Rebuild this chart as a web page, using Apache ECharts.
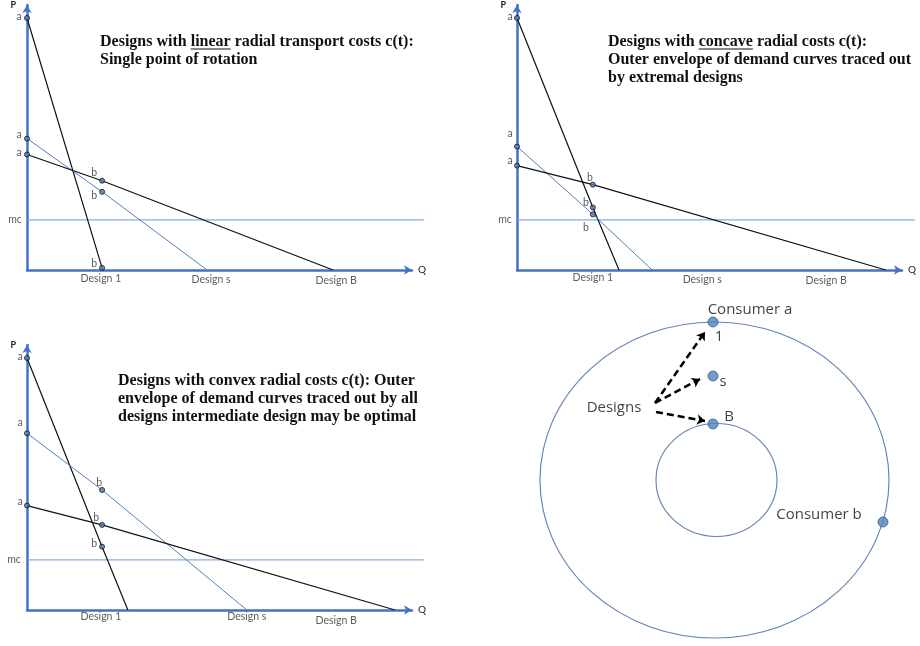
<!DOCTYPE html>
<html><head><meta charset="utf-8">
<script src="https://cdn.jsdelivr.net/npm/echarts@6/dist/echarts.min.js"></script>
<style>html,body{margin:0;padding:0;background:#fff}#c{width:920px;height:646px}</style>
</head><body><div id="c"></div>
<script>
// ---------------- data ----------------
const designNames = ['Design 1', 'Design s', 'Design B'];
const mcLevel = 18.9;

// Panel 1: linear radial transport costs
const p1InterceptP = [95.1, 49.6, 43.6];
const p1PointQ = [19.5, 19.5, 19.5];
const p1PointP = [0.8, 29.5, 33.7];
const p1InterceptQ = [19.6, 46.8, 79.5];
const p1LabelQ = [19.2, 47.8, 80.3];
const p1McEndQ = 103.1;

// Panel 2: concave radial costs
const p2InterceptP = [95.1, 46.6, 39.4];
const p2PointQ = [19.7, 19.7, 19.7];
const p2PointP = [23.6, 21.0, 32.2];
const p2InterceptQ = [26.5, 35.1, 95.8];
const p2LabelQ = [19.7, 48.1, 80.3];
const p2McEndQ = 103.4;

// Panel 3: convex radial costs
const p3InterceptP = [95.1, 66.7, 39.4];
const p3PointQ = [19.5, 19.5, 19.5];
const p3PointP = [23.9, 45.3, 32.1];
const p3InterceptQ = [26.2, 57.1, 95.6];
const p3LabelQ = [19.2, 57.1, 80.3];
const p3McEndQ = 103.1;

// Panel 4: circle of consumers
const ringNames = ['outer', 'inner'];
const ringX = [0, 2];
const ringY = [0, 0];
const dotNames = ['Consumer a', 's', 'B', 'Consumer b'];
const dotX = [-1.5, -1.5, -1.5, 168.5];
const dotY = [158, 104, 56, -42];
const arrowFrom = [[-59.5, 77], [-59.5, 77], [-58.5, 68]];
const arrowTo = [[-9.5, 148], [-14.5, 101], [-9.5, 59]];
const noteText = ['Consumer a', '1', 's', 'B', 'Designs', 'Consumer b'];
const noteX = [35.5, 4.5, 8.5, 14.5, -100.5, 104.5];
const noteY = [170, 143, 98, 63, 72, -35];

// ---------------- styles / layout ----------------
const SMALL_FONT = 'Lato';
const SMALL_SIZE = 10.5;
const BIG_FONT = 'Open Sans';
const SERIF = 'Liberation Serif';
const AXIS_BLUE = '#4472C4';
const LINE_BLUE = '#4F81BD';
const MC_BLUE = '#6A98D6';

const panelLayout = [
  {left: 27, top: 5, width: 385, height: 265},
  {left: 517, top: 5, width: 385, height: 265},
  {left: 27, top: 345, width: 385, height: 265}
];
const aOffsets = [
  [[-8, -1], [-8, -4], [-8, -2]],
  [[-7, -1], [-7, -13], [-7, -5]],
  [[-7, -1], [-7, -11], [-7, -4]]
];
const bOffsets = [
  [[-8, -4], [-8, 4], [-8, -8]],
  [[-7, -5], [-7, 13], [-3, -7]],
  [[-8, -3], [-3, -7], [-6, -7]]
];
const designLabelDy = [[9, 10, 11], [8, 10, 11], [7, 7, 11]];
const mcDx = [-12, -12, -13];

const panels = [
  {iP: p1InterceptP, pQ: p1PointQ, pP: p1PointP, iQ: p1InterceptQ, lQ: p1LabelQ, mcEnd: p1McEndQ},
  {iP: p2InterceptP, pQ: p2PointQ, pP: p2PointP, iQ: p2InterceptQ, lQ: p2LabelQ, mcEnd: p2McEndQ},
  {iP: p3InterceptP, pQ: p3PointQ, pP: p3PointP, iQ: p3InterceptQ, lQ: p3LabelQ, mcEnd: p3McEndQ}
];

const grids = [], xAxes = [], yAxes = [], series = [];

panels.forEach((p, g) => {
  grids.push(Object.assign({containLabel: false}, panelLayout[g]));
  xAxes.push({
    gridIndex: g, type: 'value', min: 0, max: 100,
    axisLine: {show: true, onZero: false, symbol: ['none', 'arrow'], symbolSize: [7, 8],
      lineStyle: {color: AXIS_BLUE, width: 2.5}},
    axisTick: {show: false}, axisLabel: {show: false}, splitLine: {show: false},
    name: 'Q', nameLocation: 'end', nameGap: 6,
    nameTextStyle: {color: '#222', fontSize: 10, fontFamily: SMALL_FONT, verticalAlign: 'middle', padding: [5, 0, 0, 0]}
  });
  yAxes.push({
    gridIndex: g, type: 'value', min: 0, max: 100,
    axisLine: {show: true, onZero: false, symbol: ['none', 'arrow'], symbolSize: [7, 8],
      lineStyle: {color: AXIS_BLUE, width: 2.5}},
    axisTick: {show: false}, axisLabel: {show: false}, splitLine: {show: false},
    name: 'P', nameLocation: 'end', nameGap: 4,
    nameTextStyle: {color: '#222', fontSize: 9, fontWeight: 'bold', fontFamily: SMALL_FONT,
      align: 'right', verticalAlign: 'top', padding: [0, 11, 0, 0]}
  });
});

// hidden helper grids so the mc line can run a little past the Q arrow
panels.forEach((p, g) => {
  const L = panelLayout[g];
  grids.push({left: L.left, top: L.top, height: L.height, width: L.width * p.mcEnd / 100});
  xAxes.push({gridIndex: 4 + g, type: 'value', min: 0, max: p.mcEnd, show: false});
  yAxes.push({gridIndex: 4 + g, type: 'value', min: 0, max: 100, show: false});
});

// Panel 4 grid (index 3)
grids.splice(3, 0, {left: 540, top: 322, width: 349, height: 316});
xAxes.splice(3, 0, {gridIndex: 3, type: 'value', min: -174.5, max: 174.5, show: false});
yAxes.splice(3, 0, {gridIndex: 3, type: 'value', min: -158, max: 158, show: false});
for (let k = 4; k < xAxes.length; k++) { xAxes[k].gridIndex = k; yAxes[k].gridIndex = k; }

panels.forEach((p, g) => {
  // mc line (on helper grid)
  series.push({
    type: 'line', xAxisIndex: 4 + g, yAxisIndex: 4 + g, symbol: 'none', silent: true,
    data: [[0, mcLevel], [p.mcEnd, mcLevel]],
    lineStyle: {color: MC_BLUE, width: 1}, z: 1
  });
  // demand lines
  designNames.forEach((name, i) => {
    series.push({
      type: 'line', name: name, xAxisIndex: g, yAxisIndex: g, clip: false, symbol: 'none',
      data: [[0, p.iP[i]], [p.pQ[i], p.pP[i]], [p.iQ[i], 0]],
      lineStyle: {color: i === 1 ? LINE_BLUE : '#111', width: i === 1 ? 1 : 1.2}, z: 2
    });
  });
  const ptStyle = {color: LINE_BLUE, borderColor: '#111', borderWidth: 1};
  // a points
  series.push({
    type: 'scatter', xAxisIndex: g, yAxisIndex: g, clip: false, symbolSize: 5, z: 5,
    itemStyle: ptStyle,
    data: p.iP.map((v, i) => ({value: [0, v],
      label: {show: true, position: 'inside', offset: aOffsets[g][i], formatter: 'a',
        color: '#333', fontSize: SMALL_SIZE, fontFamily: SMALL_FONT}}))
  });
  // b points
  series.push({
    type: 'scatter', xAxisIndex: g, yAxisIndex: g, clip: false, symbolSize: 5, z: 5,
    itemStyle: ptStyle,
    data: p.pP.map((v, i) => ({value: [p.pQ[i], v],
      label: {show: true, position: 'inside', offset: bOffsets[g][i], formatter: 'b',
        color: '#333', fontSize: SMALL_SIZE, fontFamily: SMALL_FONT}}))
  });
  // text labels: mc and design names
  const txt = [{value: [0, mcLevel], label: {offset: [mcDx[g], 0], formatter: 'mc'}}]
    .concat(designNames.map((n, i) => ({value: [p.lQ[i], 0], label: {offset: [0, designLabelDy[g][i]], formatter: n}})));
  series.push({
    type: 'scatter', xAxisIndex: g, yAxisIndex: g, clip: false, symbolSize: 1, silent: true, z: 6,
    itemStyle: {color: 'rgba(0,0,0,0)'},
    label: {show: true, position: 'inside', color: '#333', fontSize: SMALL_SIZE, fontFamily: SMALL_FONT},
    data: txt
  });
});

// Panel 4 series
const ringSizes = [[349, 316], [121, 113]];
series.push({
  type: 'scatter', xAxisIndex: 3, yAxisIndex: 3, clip: false, silent: true, z: 1,
  data: ringNames.map((n, i) => ({name: n, value: [ringX[i], ringY[i]], symbolSize: ringSizes[i]})),
  itemStyle: {color: 'rgba(0,0,0,0)', borderColor: '#3F63A3', borderWidth: 1.1}
});
series.push({
  type: 'lines', coordinateSystem: 'cartesian2d', xAxisIndex: 3, yAxisIndex: 3, silent: true, z: 3,
  symbol: ['none', 'arrow'], symbolSize: 8,
  lineStyle: {color: '#000', width: 2.5, type: [7, 4], opacity: 1},
  data: arrowFrom.map((f, i) => ({coords: [f, arrowTo[i]]}))
});
series.push({
  type: 'scatter', xAxisIndex: 3, yAxisIndex: 3, clip: false, z: 4, symbolSize: 10,
  itemStyle: {color: LINE_BLUE, borderColor: '#3A5F8F', borderWidth: 1},
  data: dotNames.map((n, i) => ({name: n, value: [dotX[i], dotY[i]]}))
});
series.push({
  type: 'scatter', xAxisIndex: 3, yAxisIndex: 3, clip: false, z: 5, symbolSize: 1, silent: true,
  itemStyle: {color: 'rgba(0,0,0,0)'},
  label: {show: true, position: 'inside', color: '#111', fontSize: 15, fontFamily: BIG_FONT,
    formatter: (d) => d.name},
  data: noteText.map((t, i) => ({name: t, value: [noteX[i], noteY[i]]}))
});

// Titles
const titleFontSize = 16, titleLH = 18;
const titleTexts = [
  ['Designs with linear radial transport costs c(t):', 'Single point of rotation'],
  ['Designs with concave radial costs c(t):', 'Outer envelope of demand curves traced out', 'by extremal designs'],
  ['Designs with convex radial costs c(t): Outer', 'envelope of demand curves traced out by all', 'designs intermediate design may be optimal']
];
const titlePos = [[100, 33], [608, 33], [118, 372]];
const underlineWords = [['Designs with ', 'linear'], ['Designs with ', 'concave'], null];
const titles = titleTexts.map((lines, i) => ({
  text: lines.join('\n'), left: titlePos[i][0], top: titlePos[i][1], padding: 0,
  textStyle: {fontFamily: SERIF, fontWeight: 'bold', fontSize: titleFontSize, lineHeight: titleLH, color: '#111'}
}));
const ctx = document.createElement('canvas').getContext('2d');
ctx.font = 'bold ' + titleFontSize + 'px "' + SERIF + '"';
const graphics = [];
underlineWords.forEach((u, i) => {
  if (!u) return;
  const x1 = titlePos[i][0] + ctx.measureText(u[0]).width;
  const x2 = x1 + ctx.measureText(u[1]).width;
  const y = titlePos[i][1] + titleLH / 2 + 7;
  graphics.push({type: 'line', shape: {x1: x1, y1: y, x2: x2, y2: y}, style: {stroke: '#111', lineWidth: 1}, silent: true});
});

const chart = echarts.init(document.getElementById('c'), null, {renderer: 'canvas'});
chart.setOption({
  animation: false,
  backgroundColor: '#fff',
  title: titles,
  grid: grids,
  xAxis: xAxes,
  yAxis: yAxes,
  series: series,
  graphic: graphics
});
</script></body></html>
